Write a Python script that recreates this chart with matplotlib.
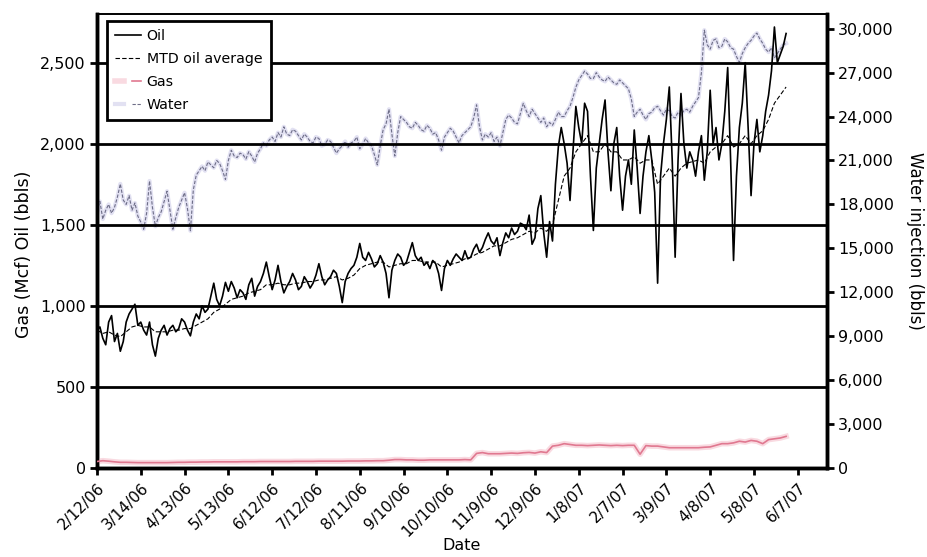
import numpy as np
import pandas as pd
import matplotlib
matplotlib.use("Agg")
import matplotlib.pyplot as plt
from matplotlib.legend_handler import HandlerTuple

plt.rcParams['font.family'] = ['DejaVu Sans']

# Daily-ish readings, every 2 days starting 2/12/06
oil = [850, 870, 800, 760, 900, 940, 780, 830, 720, 780,
       900, 950, 980, 1010, 880, 900, 850, 820, 900, 760,
       690, 800, 850, 880, 820, 860, 880, 840, 860, 920,
       900, 850, 815, 900, 950, 920, 1000, 960, 980, 1060,
       1140, 1040, 1000, 1060, 1145, 1090, 1150, 1110, 1050, 1100,
       1080, 1040, 1130, 1170, 1060, 1120, 1150, 1200, 1270, 1180,
       1100, 1160, 1250, 1150, 1080, 1120, 1150, 1200, 1160, 1100,
       1120, 1180, 1150, 1110, 1140, 1190, 1260, 1180, 1130, 1160,
       1180, 1220, 1200, 1120, 1020, 1150, 1200, 1230, 1250, 1300,
       1385, 1300, 1280, 1330, 1290, 1240, 1260, 1310, 1270, 1200,
       1050, 1220, 1280, 1320, 1300, 1250, 1270, 1330, 1390, 1310,
       1280, 1300, 1250, 1270, 1230, 1280, 1260, 1200, 1095, 1230,
       1280, 1250, 1290, 1320, 1300, 1280, 1340, 1290, 1300, 1350,
       1380, 1330, 1360, 1410, 1450, 1400, 1380, 1420, 1310, 1390,
       1450, 1420, 1480, 1440, 1460, 1510, 1500, 1470, 1560, 1380,
       1420, 1600, 1680, 1450, 1300, 1520, 1400, 1750, 1980, 2100,
       2000, 1880, 1650, 1950, 2230, 2100, 2000, 2250, 2200, 1800,
       1465, 1850, 2000, 2150, 2270, 1950, 1710, 2000, 2100, 1800,
       1590, 1800, 1900, 1750, 2085, 1850, 1570, 1800, 1950, 2050,
       1900, 1700, 1140, 1800, 2000, 2150, 2350, 1900, 1300, 1900,
       2310, 2000, 1850, 1950, 1900, 1800, 1950, 2050, 1775, 1950,
       2330, 2000, 2100, 1900, 2000, 2200, 2470, 1900, 1280, 1800,
       2100, 2250, 2500, 2100, 1680, 2000, 2150, 1950, 2050, 2200,
       2300, 2450, 2720, 2500, 2550, 2600, 2680]

water = [17500, 18200, 17000, 17600, 18000, 17400, 17800, 18500, 19400, 18300,
         18000, 18600, 17600, 18100, 17200, 16800, 16300, 17400, 19600, 17800,
         16500, 17100, 17500, 18200, 18900, 17600, 16300, 17100, 17800, 18300,
         18800, 17700, 16200, 19000, 20000, 20300, 20600, 20300, 20900, 20700,
         20500, 21000, 20800, 20300, 19700, 21000, 21700, 21300, 21200, 21500,
         21400, 21100, 21600, 21300, 20900, 21500, 21800, 22200, 22000, 22400,
         22600, 22300, 22900, 22600, 23300, 22800, 22700, 23100, 23000, 22700,
         22400, 22800, 22600, 22300, 22200, 22600, 22500, 22000, 22100, 22400,
         22300, 21900, 21500, 21800, 22000, 22300, 21900, 22200, 22300, 22600,
         21800, 22100, 22500, 22200, 22000, 21400, 20700, 22000, 23100, 23500,
         24500, 22800, 21300, 22900, 24000, 23800, 23600, 23300, 23200, 23600,
         23400, 23100, 23000, 23400, 23200, 22800, 22900, 22400, 21700, 22600,
         22900, 23200, 23000, 22600, 22200, 22700, 22900, 23100, 23300, 23900,
         24800, 23300, 22400, 22800, 22600, 22900, 22300, 22600, 22000, 22900,
         23800, 24100, 23900, 23600, 23500, 24200, 24900, 24400, 24000, 24500,
         24200, 23900, 23600, 23900, 23300, 23600, 23400, 23800, 24300, 24000,
         24000, 24400, 24700, 25300, 26000, 26500, 26800, 27100, 26900, 26600,
         26600, 27000, 26700, 26500, 26400, 26700, 26500, 26300, 26200, 26500,
         26300, 26100, 25900, 25200, 24000, 24300, 24500, 24100, 23800, 24200,
         24300, 24600, 24700, 24400, 24100, 24500, 24400, 24000, 23900, 24300,
         24100, 24400, 24500, 24300, 24700, 25000, 25300, 27000, 29900, 28900,
         28600, 29200, 29300, 28700, 28800, 29300, 29100, 28700, 28600, 28100,
         27700, 28300, 28700, 29000, 29200, 29500, 29700, 29300, 29000, 28600,
         28400, 28700, 28000, 28300, 28600, 28900, 29000]

# Slower series, every 4 days starting 2/12/06
mtd_oil = [850, 830, 840, 820, 810, 840, 870, 880, 870, 870,
           840, 840, 840, 850, 850, 860, 860, 880, 900, 920,
           960, 980, 1010, 1040, 1050, 1060, 1080, 1090, 1100, 1130,
           1130, 1140, 1130, 1130, 1140, 1140, 1150, 1150, 1160, 1160,
           1170, 1180, 1160, 1170, 1190, 1230, 1250, 1260, 1270, 1270,
           1240, 1250, 1260, 1260, 1280, 1280, 1270, 1270, 1270, 1240,
           1250, 1260, 1270, 1290, 1300, 1320, 1330, 1350, 1370, 1370,
           1390, 1410, 1420, 1440, 1460, 1450, 1480, 1460, 1500, 1650,
           1800, 1850, 1950, 2000, 2050, 1950, 1950, 2000, 1950, 1950,
           1900, 1900, 1920, 1880, 1900, 1900, 1750, 1800, 1850, 1800,
           1850, 1880, 1890, 1900, 1880, 1950, 1980, 2000, 2050, 1980,
           2000, 2050, 2000, 2050, 2080, 2150, 2250, 2300, 2350]

gas = [40, 45, 42, 38, 35, 35, 34, 33, 33, 33,
       33, 33, 33, 34, 35, 35, 36, 36, 37, 37,
       38, 38, 38, 38, 38, 39, 39, 39, 40, 40,
       40, 40, 40, 40, 41, 41, 41, 41, 42, 42,
       42, 42, 42, 43, 43, 43, 44, 44, 45, 45,
       48, 52, 52, 50, 50, 48, 48, 50, 50, 50,
       50, 50, 50, 52, 50, 90, 95, 88, 88, 88,
       90, 92, 90, 94, 96, 92, 100, 95, 135, 140,
       150, 145, 140, 140, 138, 140, 142, 140, 138, 140,
       138, 140, 140, 85, 138, 135, 135, 130, 125, 125,
       125, 125, 125, 125, 128, 130, 140, 150, 150, 155,
       165, 160, 170, 165, 150, 175, 180, 185, 195]

dates2 = pd.date_range("2006-02-12", periods=len(oil), freq="2D")
dates4 = pd.date_range("2006-02-12", periods=len(mtd_oil), freq="4D")
tick_dates = pd.date_range("2006-02-12", "2007-06-07", freq="30D")
tick_labels = [f"{d.month}/{d.day}/{d:%y}" for d in tick_dates]
left_ticks = [0, 500, 1000, 1500, 2000, 2500]
right_ticks = [0, 3000, 6000, 9000, 12000, 15000, 18000, 21000, 24000, 27000, 30000]

fig = plt.figure(figsize=(9.27, 5.57), dpi=100)
ax = fig.add_axes([0.1046, 0.1598, 0.7875, 0.815])
ax2 = ax.twinx()

# thick horizontal grid lines on the left scale
for v in left_ticks[1:]:
    ax.axhline(v, color='black', lw=2, zorder=1)

g_halo, = ax.plot(dates4, gas, color='#f5c2cd', lw=4, alpha=0.6, zorder=2)
g_line, = ax.plot(dates4, gas, color='#e07890', lw=1.2, zorder=3)
w_halo, = ax2.plot(dates2, water, color='#cfcdea', lw=3, alpha=0.6, zorder=2)
w_line, = ax2.plot(dates2, water, color='#6e6e88', lw=0.8, ls=(0, (3, 1.5)), zorder=3)
h_oil, = ax.plot(dates2, oil, color='black', lw=1.2, zorder=4)
h_mtd, = ax.plot(dates4, mtd_oil, color='black', lw=0.8, ls=(0, (4, 2)), zorder=4)

# keep the oil axes above the water axes
ax.set_zorder(ax2.get_zorder() + 1)
ax.patch.set_visible(False)

ax.set_xlim(pd.Timestamp("2006-02-12"), pd.Timestamp("2007-06-27"))
ax.set_ylim(0, 2800)
ax2.set_ylim(0, 31000)

ax.set_yticks(left_ticks)
ax.set_yticklabels([f"{v:,}" for v in left_ticks], fontsize=11.5)
ax2.set_yticks(right_ticks)
ax2.set_yticklabels([f"{v:,}" for v in right_ticks], fontsize=11.5)
ax.set_xticks(tick_dates)
ax.set_xticklabels(tick_labels, rotation=45, ha='right', rotation_mode='anchor', fontsize=11)

ax.tick_params(axis='y', direction='out', length=5, width=2, pad=3)
ax.tick_params(axis='x', direction='out', length=5, width=2, pad=4)
ax2.tick_params(axis='y', direction='out', length=5, width=2, pad=3)

for a in (ax, ax2):
    for side in ('left', 'right', 'bottom'):
        a.spines[side].set_linewidth(2.5)
    a.spines['top'].set_linewidth(1.2)

ax.set_xlabel('Date', fontsize=11.5)
ax.xaxis.set_label_coords(0.5, -0.155)
ax.set_ylabel('Gas (Mcf) Oil (bbls)', fontsize=12.5)
ax.yaxis.set_label_coords(-0.088, 0.47)
ax2.set_ylabel('Water injection (bbls)', fontsize=12, rotation=270, va='center')
ax2.yaxis.set_label_coords(1.12, 0.5)

leg = ax.legend(handles=[h_oil, h_mtd, (g_halo, g_line), (w_halo, w_line)],
                labels=['Oil', 'MTD oil average', 'Gas', 'Water'],
                handler_map={tuple: HandlerTuple(ndivide=None)},
                loc='upper left', bbox_to_anchor=(0.0137, 0.985), borderaxespad=0,
                fontsize=10.2, fancybox=False, framealpha=1, handlelength=1.8,
                handletextpad=0.4, labelspacing=0.62, borderpad=0.6)
leg.get_frame().set_edgecolor('black')
leg.get_frame().set_linewidth(2)

fig.savefig('out.png', dpi=100)
